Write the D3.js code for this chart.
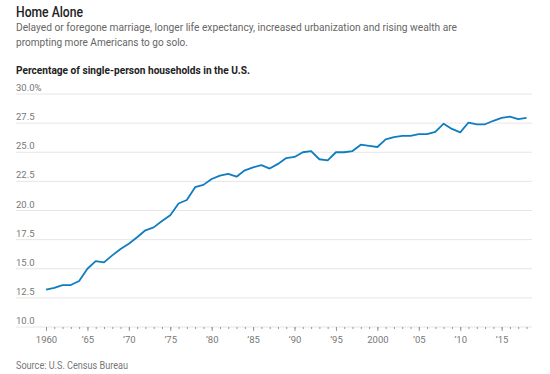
<!DOCTYPE html>
<html>
<head>
<meta charset="utf-8">
<script src="https://cdn.jsdelivr.net/npm/d3@7"></script>
<style>
  body { margin: 0; background: #fff; }
  svg text { font-family: Roboto, "Open Sans", sans-serif; }
</style>
</head>
<body>
<svg id="chart" width="550" height="374"></svg>
<script>
const years = d3.range(1960, 2019);
const shares = [
    13.2, 13.35, 13.6, 13.6, 13.95, 15.0, 15.65, 15.55, 16.15, 16.7,
    17.15, 17.7, 18.3, 18.55, 19.1, 19.6, 20.6, 20.9, 22.0, 22.2,
    22.7, 23.0, 23.15, 22.9, 23.45, 23.7, 23.9, 23.6, 24.0, 24.5,
    24.6, 25.0, 25.1, 24.4, 24.3, 25.0, 25.0, 25.1, 25.65, 25.55,
    25.45, 26.1, 26.3, 26.4, 26.4, 26.55, 26.55, 26.75, 27.45, 27.0,
    26.7, 27.55, 27.4, 27.4, 27.7, 27.95, 28.05, 27.85, 27.95
];
const yTicks = [10, 12.5, 15, 17.5, 20, 22.5, 25, 27.5, 30];
const xMajor = [1960, 1965, 1970, 1975, 1980, 1985, 1990, 1995, 2000, 2005, 2010, 2015];

const title = "Home Alone";
const subtitle = [
    "Delayed or foregone marriage, longer life expectancy, increased urbanization and rising wealth are",
    "prompting more Americans to go solo."
];
const chartLabel = "Percentage of single-person households in the U.S.";
const source = "Source: U.S. Census Bureau";

const svg = d3.select("#chart");

const x = d3.scaleLinear().domain([1960, 2018]).range([46, 526.5]);
const y = d3.scaleLinear().domain([10, 30]).range([327, 94]);

// header (squeezed to the widths of the original type)
svg.append("text")
    .attr("x", 16).attr("y", 17)
    .attr("font-size", 15).attr("font-weight", 500).attr("fill", "#222")
    .attr("textLength", 67).attr("lengthAdjust", "spacingAndGlyphs")
    .text(title);

const subWidths = [441, 172];
svg.selectAll(".sub")
    .data(subtitle)
    .enter()
    .append("text")
    .attr("class", "sub")
    .attr("x", 16).attr("y", (d, i) => 31 + i * 15)
    .attr("font-size", 11.5).attr("fill", "#666")
    .attr("textLength", (d, i) => subWidths[i]).attr("lengthAdjust", "spacingAndGlyphs")
    .text(d => d);

svg.append("text")
    .attr("x", 16).attr("y", 74)
    .attr("font-size", 11).attr("font-weight", 700).attr("fill", "#222")
    .attr("textLength", 234).attr("lengthAdjust", "spacingAndGlyphs")
    .text(chartLabel);

// gridlines + y labels
const grid = svg.append("g");
grid.selectAll("line")
    .data(yTicks)
    .enter()
    .append("line")
    .attr("x1", 16).attr("x2", 532)
    .attr("y1", d => y(d)).attr("y2", d => y(d))
    .attr("stroke", "#e6e6e6").attr("stroke-width", 1);

grid.selectAll("text")
    .data(yTicks)
    .enter()
    .append("text")
    .attr("x", 16).attr("y", d => y(d) - 3)
    .attr("font-size", 9.5).attr("fill", "#777")
    .text(d => d3.format(".1f")(d) + (d === 30 ? "%" : ""));

// x axis
const minorAxis = svg.append("g")
    .attr("transform", "translate(0," + y(10) + ")")
    .call(d3.axisBottom(x).tickValues(years).tickSize(2).tickFormat(""));
minorAxis.select(".domain").remove();
minorAxis.selectAll("line").attr("stroke", "#999");

const majorAxis = svg.append("g")
    .attr("transform", "translate(0," + y(10) + ")")
    .call(d3.axisBottom(x)
        .tickValues(xMajor)
        .tickSize(4)
        .tickPadding(5)
        .tickFormat(d => (d === 1960 || d === 2000) ? String(d) : "\u2019" + String(d).slice(2)));
majorAxis.select(".domain").remove();
majorAxis.selectAll("line").attr("stroke", "#999");
majorAxis.selectAll("text")
    .attr("font-size", 9.5).attr("fill", "#777")
    .attr("font-family", "Roboto, sans-serif");

// line
const line = d3.line()
    .x((d, i) => x(years[i]))
    .y(d => y(d));

svg.append("path")
    .datum(shares)
    .attr("d", line)
    .attr("fill", "none")
    .attr("stroke", "#0f7dc0")
    .attr("stroke-width", 1.8)
    .attr("stroke-linejoin", "round");

// source
svg.append("text")
    .attr("x", 16).attr("y", 369)
    .attr("font-size", 10).attr("fill", "#777")
    .attr("textLength", 112).attr("lengthAdjust", "spacingAndGlyphs")
    .text(source);
</script>
</body>
</html>
